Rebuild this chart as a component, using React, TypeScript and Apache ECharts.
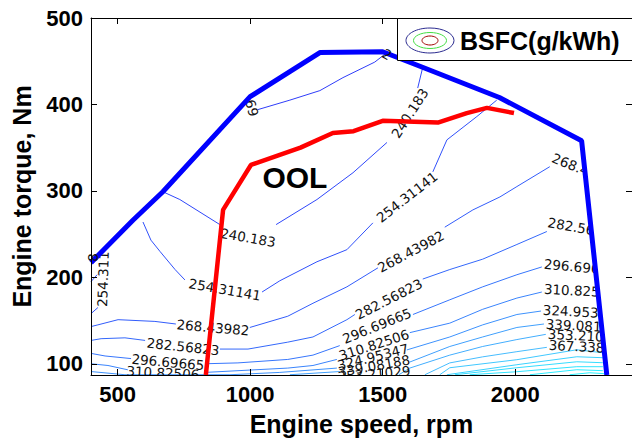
import React, { useEffect, useRef } from "react";
import * as echarts from "echarts";

// ---------- axes ----------
const rpmTicks = [500, 1000, 1500, 2000];
const torqueTicks = [100, 200, 300, 400, 500];
const rpmRange = [400, 2440];
const torqueRange = [87, 500];

// ---------- boundary curves [rpm, Nm] ----------
const maxTorqueCurve: number[][] = [
  [400, 217], [558, 266], [671, 299], [1000, 409], [1263, 460], [1500, 461],
  [1650, 443], [1940, 408], [2250, 358], [2345, 87],
];
const oolCurve: number[][] = [
  [833, 87], [898, 278], [1003, 330], [1190, 350], [1312, 367], [1390, 369],
  [1500, 381], [1708, 379], [1817, 390], [1893, 396], [1995, 390],
];

// ---------- BSFC contour lines [rpm, Nm]; [NaN, NaN] = gap at a label ----------
const G = [NaN, NaN];
const bsfc226 = [[1029, 394], [1150, 405], [1263, 416], [1350, 431], [1470, 449], [1516, 460]];
const bsfc240 = [[671, 299], [735, 290], [886, 261], G, [1098, 261], [1252, 290], [1388, 321], [1516, 356], G, [1632, 419], [1651, 443]];
const bsfc254a = [[400, 158], [426, 165]];
const bsfc254b = [[596, 264], [626, 243], [660, 230], [717, 209], [754, 197], G, [1045, 183], [1112, 196], [1252, 218], [1365, 232], [1463, 263], G, [1689, 322], [1742, 359], [1855, 386], [1930, 405]];
const bsfc254c = [[400, 195], [423, 203]];
const bsfc268 = [[400, 143], [426, 145], [502, 151], [641, 149], [720, 146], G, [999, 142], [1142, 155], [1237, 170], [1365, 189], [1482, 211], G, [1734, 258], [1840, 278], [1942, 293], [2006, 305], [2130, 328]];
const bsfc282 = [[400, 127], [438, 129], [528, 130], [604, 127], G, [886, 117], [992, 117], [1142, 125], [1237, 131], [1365, 151], [1395, 157], G, [1651, 198], [1753, 209], [1877, 221], [2006, 238], [2119, 253]];
const bsfc296 = [[400, 112], [453, 109], [551, 106], G, [830, 100], [954, 101], [1142, 105], [1237, 110], [1338, 121], G, [1614, 157], [1753, 174], [1877, 189], [2006, 203], [2100, 212]];
const bsfc310 = [[400, 100], [464, 98], [539, 93], G, [830, 90], [1142, 95], [1237, 98], [1327, 105], G, [1602, 136], [1753, 147], [1877, 163], [2006, 176], [2100, 183]];
const bsfc324 = [[400, 91], [528, 87.3], [924, 87.3], [1112, 90], [1327, 95], G, [1591, 116], [1753, 131], [1877, 145], [2006, 157], [2097, 161]];
const bsfc339 = [[1150, 87.3], [1338, 91], G, [1602, 102], [1753, 120], [1877, 131], [2006, 142], [2108, 146]];
const bsfc353 = [[1561, 87.3], [1602, 95], [1753, 110], [1877, 120], [2006, 128], [2115, 134]];
const bsfc367 = [[1659, 87.3], [1753, 101], [1877, 108], [2006, 114], [2119, 119]];
const bsfc381 = [[1715, 87.3], [1753, 95.4], [2006, 104.7], [2232, 116.2], [2330, 112.7]];
const bsfc395 = [[1742, 87.3], [2006, 98.9], [2232, 108.1], [2330, 107]];
const bsfc409 = [[1772, 87.3], [2006, 95.4], [2232, 102.3], [2330, 101.2]];
const bsfc423 = [[1828, 87.3], [2006, 90.8], [2232, 96.6], [2330, 96.6]];
const bsfc437 = [[2055, 87.3], [2232, 93.1], [2330, 92]];
const bsfc452 = [[2205, 87.3], [2281, 89.6], [2337, 88.5]];

// ---------- contour labels [text, rpm, Nm] ----------
const centerLabels: [string, number, number][] = [
  ["240.183", 992, 246],
  ["240.183", 1602, 390],
  ["254.311", 445, 198],
  ["254.31141", 905, 186],
  ["254.31141", 1591, 293],
  ["268.43982", 860, 142],
  ["268.43982", 1606, 230],
  ["282.56823", 747, 120],
  ["282.56823", 1523, 175],
  ["296.69665", 690, 102],
  ["296.69665", 1478, 144],
  ["310.82506", 671, 89.6],
  ["310.82506", 1467, 122],
  ["324.95347", 1463, 108],
  ["339.08188", 1467, 97.7],
  ["353.21029", 1467, 88.5],
  ["69", 1007, 396],
];
const edgeLabels: [string, number, number][] = [
  ["268.43982", 2137, 339],
  ["282.56823", 2119, 264],
  ["296.69665", 2104, 215.6],
  ["310.82506", 2104, 186.7],
  ["324.95347", 2100, 162.5],
  ["339.08188", 2111, 146.3],
  ["353.21029", 2119, 134.7],
  ["367.33871", 2122, 122],
];
const topLabels: [string, number, number][] = [
  ["2", 1516, 458],
  ["8", 408, 223],
];
const annotation: [string, number, number] = ["OOL", 1169, 316];
const legendText = "BSFC(g/kWh)";

// ---------- styles ----------
const centerRot = [-10, 57, 88, -10, 38, -5, 28, -6, 27, -5, 22, -3, 18, 14, 10, 5, -75];
const edgeRot = [-22, -10, -5, -3, -3, -3, -3, -3];
const topRot = [-30, 90];
const SANS = "'Liberation Sans', Arial, Helvetica, sans-serif";
const LBL = "'DejaVu Sans', 'Liberation Sans', sans-serif";

const contourSet = [
  { pts: bsfc226, color: "#2f3dfa" },
  { pts: bsfc240, color: "#2f47fa" },
  { pts: bsfc254a, color: "#3050fa" },
  { pts: bsfc254b, color: "#3050fa" },
  { pts: bsfc254c, color: "#3050fa" },
  { pts: bsfc268, color: "#325cfb" },
  { pts: bsfc282, color: "#3468fb" },
  { pts: bsfc296, color: "#3776fc" },
  { pts: bsfc310, color: "#3a84fc" },
  { pts: bsfc324, color: "#3d92fd" },
  { pts: bsfc339, color: "#40a0fd" },
  { pts: bsfc353, color: "#43aefe" },
  { pts: bsfc367, color: "#46bcfe" },
  { pts: bsfc381, color: "#40c8ff" },
  { pts: bsfc395, color: "#3ad2ff" },
  { pts: bsfc409, color: "#35dcff" },
  { pts: bsfc423, color: "#30e4ff" },
  { pts: bsfc437, color: "#2decff" },
  { pts: bsfc452, color: "#2af2ff" },
];

function buildOption(): any {
  const axisCommon = {
    type: "value",
    z: 8,
    splitLine: { show: false },
    axisLine: { show: true, onZero: false, lineStyle: { color: "#000", width: 1 } },
  };
  const maskOutline = [
    ...maxTorqueCurve,
    [rpmRange[1], torqueRange[0]],
    [rpmRange[1], torqueRange[1]],
    [rpmRange[0], torqueRange[1]],
  ];
  const plain = (v: number) => String(v);

  const contourSeries = contourSet.map((c) => ({
    type: "line",
    data: c.pts,
    symbol: "none",
    showSymbol: false,
    connectNulls: false,
    silent: true,
    z: 2,
    lineStyle: { width: 1, color: c.color },
  }));

  return {
    animation: false,
    backgroundColor: "#fff",
    grid: { left: 91, top: 18, width: 541, height: 357, containLabel: false, outerBoundsMode: "none" },
    xAxis: [
      {
        ...axisCommon,
        position: "bottom",
        min: rpmRange[0],
        max: rpmRange[1],
        axisTick: { show: true, inside: true, length: 6, customValues: rpmTicks, lineStyle: { color: "#000" } },
        axisLabel: { show: true, customValues: rpmTicks, formatter: plain, margin: 8, color: "#000", fontSize: 22, fontWeight: "bold", fontFamily: SANS },
        name: "Engine speed, rpm",
        nameLocation: "middle",
        nameGap: 36,
        nameTextStyle: { color: "#000", fontSize: 25, fontWeight: "bold", fontFamily: SANS },
      },
      {
        ...axisCommon,
        position: "top",
        min: rpmRange[0],
        max: rpmRange[1],
        axisTick: { show: true, inside: true, length: 6, customValues: rpmTicks, lineStyle: { color: "#000" } },
        axisLabel: { show: false },
      },
    ],
    yAxis: [
      {
        ...axisCommon,
        position: "left",
        min: torqueRange[0],
        max: torqueRange[1],
        axisTick: { show: true, inside: true, length: 6, customValues: torqueTicks, lineStyle: { color: "#000" } },
        axisLabel: { show: true, customValues: torqueTicks, formatter: plain, margin: 8, color: "#000", fontSize: 22, fontWeight: "bold", fontFamily: SANS },
        name: "Engine torque, Nm",
        nameLocation: "middle",
        nameGap: 57,
        nameTextStyle: { color: "#000", fontSize: 25, fontWeight: "bold", fontFamily: SANS },
      },
      {
        ...axisCommon,
        position: "right",
        min: torqueRange[0],
        max: torqueRange[1],
        axisTick: { show: true, inside: true, length: 6, customValues: torqueTicks, lineStyle: { color: "#000" } },
        axisLabel: { show: false },
      },
    ],
    series: [
      ...contourSeries,
      {
        type: "scatter",
        z: 3,
        silent: true,
        symbolSize: 2,
        itemStyle: { color: "rgba(0,0,0,0)", opacity: 1 },
        label: { show: true, color: "#111", fontSize: 13.5, fontFamily: LBL },
        data: [
          ...centerLabels.map((l, i) => ({
            value: [l[1], l[2]],
            label: { show: true, formatter: l[0], rotate: centerRot[i], position: "inside" },
          })),
          ...edgeLabels.map((l, i) => ({
            value: [l[1], l[2]],
            label: { show: true, formatter: l[0], rotate: edgeRot[i], position: "right", distance: 0 },
          })),
        ],
      },
      {
        type: "custom",
        z: 4,
        silent: true,
        data: [[rpmRange[1], torqueRange[1]]],
        renderItem: (_params: any, api: any) => ({
          type: "polygon",
          shape: { points: maskOutline.map((p) => api.coord(p)) },
          style: { fill: "#fff", stroke: "#fff", lineWidth: 0.5 },
        }),
      },
      {
        type: "line",
        data: maxTorqueCurve,
        symbol: "none",
        silent: true,
        z: 5,
        lineStyle: { width: 5, color: "#0000ff" },
      },
      {
        type: "line",
        data: oolCurve,
        symbol: "none",
        silent: true,
        z: 5,
        lineStyle: { width: 4.5, color: "#ff0000" },
      },
      {
        type: "scatter",
        z: 6,
        silent: true,
        symbolSize: 2,
        itemStyle: { color: "rgba(0,0,0,0)", opacity: 1 },
        data: [
          ...topLabels.map((l, i) => ({
            value: [l[1], l[2]],
            label: { show: true, formatter: l[0], rotate: topRot[i], position: "inside", color: "#111", fontSize: 13.5, fontFamily: LBL },
          })),
          {
            value: [annotation[1], annotation[2]],
            label: { show: true, formatter: annotation[0], position: "inside", color: "#000", fontSize: 30, fontWeight: "bold", fontFamily: SANS },
          },
        ],
      },
    ],
    graphic: [
      { type: "rect", z: 7, silent: true, shape: { x: 91, y: 376, width: 545, height: 6 }, style: { fill: "#fff" } },
      { type: "rect", z: 10, silent: true, shape: { x: 397.5, y: 18.5, width: 240, height: 42 }, style: { fill: "#fff", stroke: "#000", lineWidth: 1 } },
      { type: "ellipse", z: 11, silent: true, shape: { cx: 430, cy: 40.5, rx: 24, ry: 12.5 }, style: { fill: "none", stroke: "#2b2b90", lineWidth: 1 } },
      { type: "ellipse", z: 11, silent: true, shape: { cx: 430, cy: 40.5, rx: 16.5, ry: 8 }, style: { fill: "none", stroke: "#44dd44", lineWidth: 1 } },
      { type: "ellipse", z: 11, silent: true, shape: { cx: 430, cy: 40.5, rx: 8, ry: 4.5 }, style: { fill: "none", stroke: "#a00000", lineWidth: 1 } },
      {
        type: "text", z: 11, silent: true, x: 460, y: 41,
        style: { text: legendText, fill: "#000", font: `bold 25px ${SANS}`, textVerticalAlign: "middle", verticalAlign: "middle" },
      },
    ],
  };
}

export default function App() {
  const ref = useRef<HTMLDivElement>(null);
  useEffect(() => {
    if (!ref.current) return;
    const chart = echarts.init(ref.current, undefined, { renderer: "svg" });
    chart.setOption(buildOption());
    return () => chart.dispose();
  }, []);
  return (
    <div
      ref={ref}
      style={{ position: "fixed", left: 0, top: 0, width: 632, height: 441, background: "#fff" }}
    />
  );
}
